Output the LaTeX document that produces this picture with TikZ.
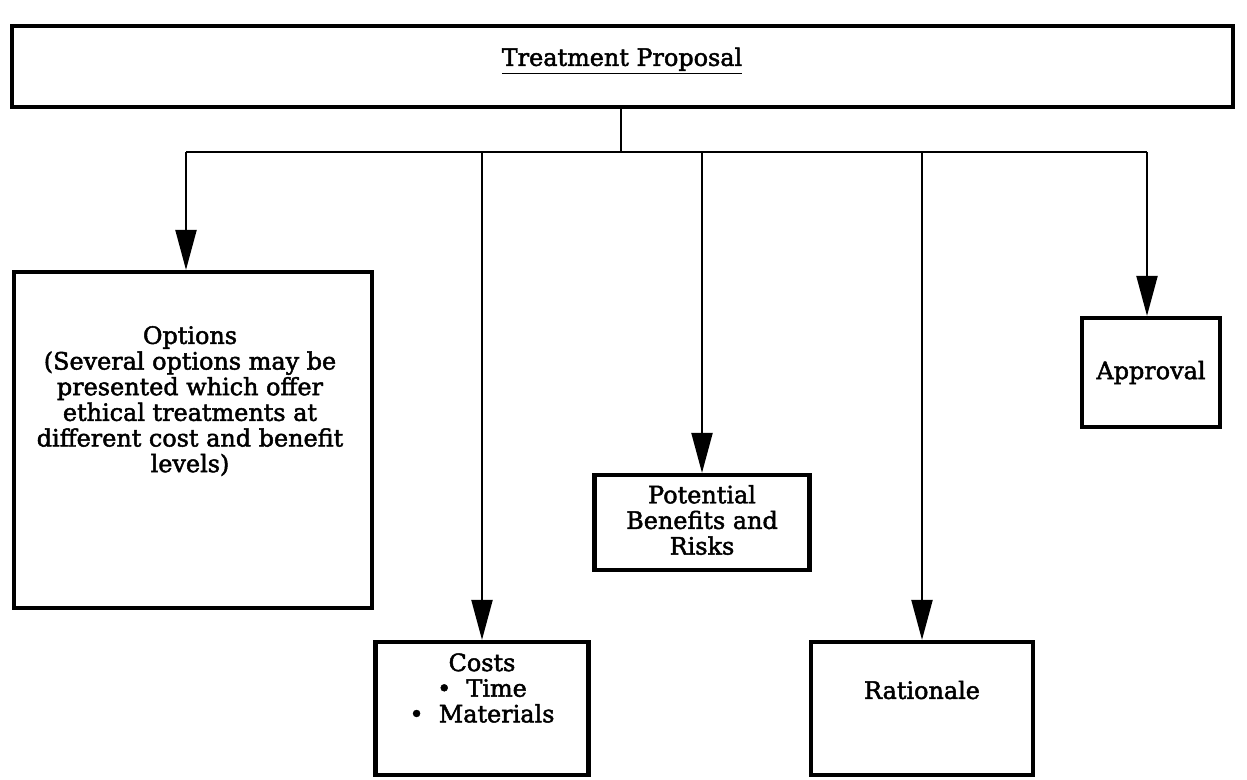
\documentclass[tikz,border=0pt]{standalone}
\usepackage{fontspec}
\setmainfont{DejaVu Serif}
\newfontfamily\lblfont[FakeBold=2]{DejaVu Serif}
\usetikzlibrary{arrows.meta}

\tikzset{
  box/.style={draw, line width=2.4pt, align=center, inner sep=2pt,
    font=\lblfont\fontsize{13.6}{14.6}\selectfont},
  txt/.style={align=center, inner sep=0pt,
    font=\lblfont\fontsize{13.6}{14.6}\selectfont},
  link/.style={line width=1.2pt},
  arr/.style={link, -{Triangle[length=0.8cm,width=0.42cm]}}
}

\begin{document}
\begin{tikzpicture}[x=0.02cm,y=-0.02cm]
				\useasboundingbox (0,0) rectangle (1247,780);
				
				% top box
				\node[box, minimum width=24.42cm, minimum height=1.62cm] (prop) at (622.5,66.5) {};
				\node[txt] (propText) at (622,61) {\underline{Treatment Proposal}};
				
				% the five boxes below
				\node[box, minimum width=7.16cm, minimum height=6.72cm] (opt) at (193,440) {};
				\node[txt] (optText) at (190,401)
				{Options\\(Several options may be\\presented which offer\\ethical treatments at\\different cost and benefit\\levels)};
				\node[box, minimum width=4.26cm, minimum height=2.66cm] (cost) at (482,708.5) {};
				\node[txt] (costText) at (482,688) {Costs\\\textbullet\ \ Time\\\textbullet\ \ Materials};
				\node[box, minimum width=4.3cm, minimum height=1.9cm] (ben) at (702,522.5) {};
				\node[txt] (benText) at (702,520) {Potential\\Benefits and\\Risks};
				\node[box, minimum width=4.44cm, minimum height=2.66cm] (rat) at (922,708.5) {};
				\node[txt] (ratText) at (922,690) {Rationale};
				\node[box, minimum width=2.76cm, minimum height=2.18cm] (appr) at (1151,372.5) {Approval};
				
				% connectors
				\coordinate (hub) at (621,152);
				\draw[link] (prop.south -| hub) -- (hub);
				\draw[link] ([xshift=-7*0.02cm]opt.north |- hub) -- ([xshift=-4*0.02cm]appr.north |- hub);
				\draw[arr] ([xshift=-7*0.02cm]opt.north |- hub) -- ([xshift=-7*0.02cm]opt.north);
				\draw[arr] ([xshift=-4*0.02cm]appr.north |- hub) -- ([xshift=-4*0.02cm]appr.north);
				\foreach \n in {cost,ben,rat}
					\draw[arr] (\n.north |- hub) -- (\n.north);
			\end{tikzpicture}
\end{document}
